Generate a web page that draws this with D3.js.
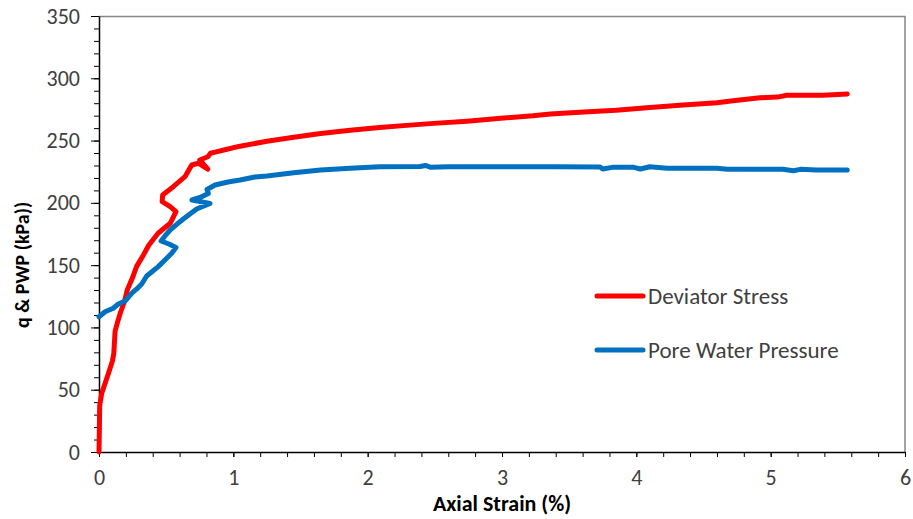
<!DOCTYPE html>
<html>
<head>
<meta charset="utf-8">
<script src="https://cdn.jsdelivr.net/npm/d3@7"></script>
<style>
  body { margin:0; background:#fff; }
  svg text { font-family: Carlito, Calibri, Lato, sans-serif; }
  .tick text { fill:#404040; font-size:22px; }
  .axis path, .axis line { stroke:#000; }
</style>
</head>
<body>
<div id="chart"></div>
<script>
// deviator stress curve (axial strain %, kPa)
const qStrain = [0, 0.003, 0.005, 0.02, 0.045, 0.07, 0.1, 0.11, 0.115, 0.12, 0.14, 0.16, 0.19, 0.21, 0.25, 0.28, 0.33, 0.37, 0.44, 0.53, 0.573, 0.53, 0.47, 0.474, 0.553, 0.64, 0.69, 0.74, 0.81, 0.75, 0.81, 0.83, 0.88, 0.93, 1.05, 1.25, 1.45, 1.65, 1.87, 2.09, 2.29, 2.49, 2.74, 2.99, 3.23, 3.36, 3.61, 3.85, 4.1, 4.35, 4.6, 4.72, 4.92, 5.05, 5.12, 5.39, 5.57];
const qValues = [0, 20, 37, 47, 55, 63, 73, 79, 88, 97, 105, 112, 121, 130, 140, 149, 158, 166, 175.6, 183.6, 192.9, 196.9, 200.9, 206.3, 213, 221, 230.4, 231.8, 227, 234.4, 237, 239.8, 241.1, 242.4, 245.5, 249.5, 252.6, 255.6, 258.3, 260.5, 262.2, 263.8, 265.6, 267.9, 269.9, 271.4, 272.9, 274.3, 276.6, 278.6, 280.4, 282, 284.4, 284.9, 286.4, 286.4, 287.4];

// pore water pressure curve
const pwpStrain = [0, 0.045, 0.106, 0.144, 0.194, 0.243, 0.281, 0.318, 0.355, 0.392, 0.441, 0.491, 0.541, 0.573, 0.521, 0.462, 0.491, 0.529, 0.581, 0.628, 0.677, 0.727, 0.826, 0.692, 0.752, 0.814, 0.804, 0.864, 0.96, 1.05, 1.16, 1.25, 1.45, 1.65, 1.87, 2.09, 2.39, 2.43, 2.47, 2.6, 3.0, 3.4, 3.73, 3.75, 3.82, 3.98, 4.03, 4.1, 4.23, 4.6, 4.68, 5.09, 5.17, 5.22, 5.34, 5.57];
const pwpValues = [108.5, 112.6, 115.4, 118.8, 121.2, 127.4, 130.9, 134.9, 141.3, 144.5, 148.8, 154.1, 159.5, 164.2, 167, 169.4, 173.4, 178.2, 183, 187, 191.1, 195.1, 199.6, 202.3, 204.3, 207.5, 210.7, 214.3, 216.7, 218.4, 220.8, 221.6, 224.2, 226.4, 227.7, 229, 229.2, 230, 228.5, 229, 229, 229, 228.8, 227.2, 228.5, 228.5, 227.2, 229, 227.7, 227.7, 226.9, 226.9, 225.8, 226.9, 226.4, 226.4];

const seriesNames = ["Deviator Stress", "Pore Water Pressure"];
const seriesColors = ["#ff0000", "#0070c0"];
const xTicks = [0, 1, 2, 3, 4, 5, 6];
const yTicks = [0, 50, 100, 150, 200, 250, 300, 350];

const totalW = 913, totalH = 519;
const margin = { top:16, right:8, bottom:67, left:99 };
const W = totalW - margin.left - margin.right, H = totalH - margin.top - margin.bottom;

const svg = d3.select("#chart").append("svg")
    .attr("width", totalW).attr("height", totalH)
    .append("g").attr("transform", `translate(${margin.left},${margin.top})`);

const x = d3.scaleLinear().domain([0, 6]).range([0, W]);
const y = d3.scaleLinear().domain([0, 350]).range([H, 0]);

// plot frame (top + right)
svg.append("path").attr("d", `M0,0.5H${W}V${H}`).attr("fill", "none")
    .attr("stroke", "#868686").attr("stroke-width", 1.5);

// minor ticks
svg.append("g").attr("class", "axis").attr("transform", `translate(0,${H})`)
    .call(d3.axisBottom(x).tickValues(d3.range(0, 6.01, 0.2)).tickSize(5).tickFormat("").tickSizeOuter(0))
    .call(g => g.select(".domain").remove());
svg.append("g").attr("class", "axis")
    .call(d3.axisLeft(y).tickValues(d3.range(0, 351, 10)).tickSize(5).tickFormat("").tickSizeOuter(0))
    .call(g => g.select(".domain").remove());

// major axes
svg.append("g").attr("class", "axis").attr("transform", `translate(0,${H})`)
    .call(d3.axisBottom(x).tickValues(xTicks).tickSize(5).tickPadding(12).tickFormat(d3.format("d")).tickSizeOuter(0))
    .call(g => g.select(".domain").attr("stroke-width", 1.5));
svg.append("g").attr("class", "axis")
    .call(d3.axisLeft(y).tickValues(yTicks).tickSize(8).tickPadding(11).tickSizeOuter(0))
    .call(g => g.select(".domain").attr("stroke-width", 1.5));

const line = d3.line().x(d => x(d[0])).y(d => y(d[1]));
const curves = [d3.zip(qStrain, qValues), d3.zip(pwpStrain, pwpValues)];

svg.selectAll(".curve").data(curves).enter().append("path")
    .attr("class", "curve")
    .attr("d", line)
    .attr("fill", "none")
    .attr("stroke", (d, i) => seriesColors[i])
    .attr("stroke-width", 5)
    .attr("stroke-linejoin", "round")
    .attr("stroke-linecap", "round");

// axis titles
svg.append("text").attr("x", W / 2).attr("y", H + 59)
    .attr("text-anchor", "middle").attr("font-weight", "bold").attr("font-size", 22)
    .attr("fill", "#000").text("Axial Strain (%)");
svg.append("text").attr("transform", "rotate(-90)").attr("x", -249).attr("y", -70)
    .attr("text-anchor", "middle").attr("font-weight", "bold").attr("font-size", 20)
    .attr("fill", "#000").text("q & PWP (kPa))");

// legend
seriesNames.forEach((name, i) => {
    const ly = 280 + i * 54;
    svg.append("line").attr("x1", 498).attr("x2", 544).attr("y1", ly).attr("y2", ly)
        .attr("stroke", seriesColors[i]).attr("stroke-width", 5).attr("stroke-linecap", "round");
    svg.append("text").attr("x", 549).attr("y", ly).attr("dy", "0.35em")
        .attr("font-size", 23).attr("fill", "#404040").text(name);
});
</script>
</body>
</html>
